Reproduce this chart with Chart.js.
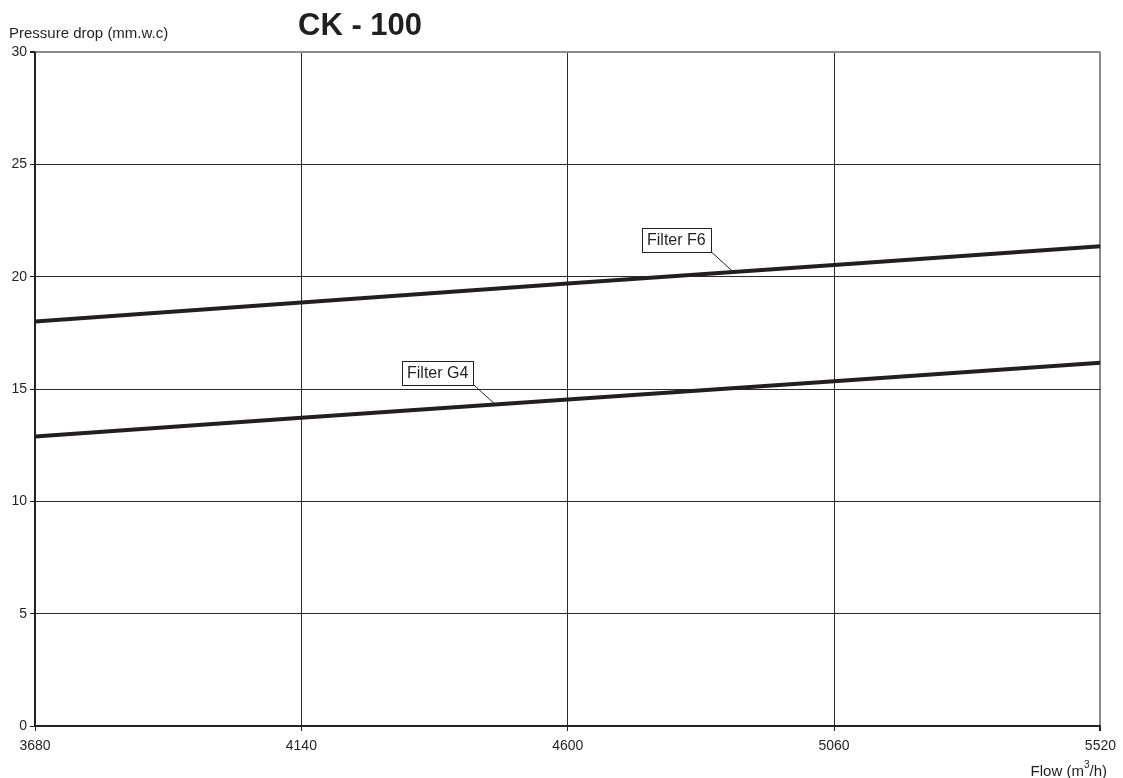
<!DOCTYPE html>
<html>
<head>
<meta charset="utf-8">
<title>CK - 100</title>
<script src="https://cdn.jsdelivr.net/npm/chart.js@4.4.1/dist/chart.umd.min.js"></script>
<style>
  html, body { margin: 0; padding: 0; background: #fff; }
  #wrap { width: 1123px; height: 778px; }
</style>
</head>
<body>
<div id="wrap"><canvas id="pressureChart" width="1123" height="778"></canvas></div>
<script>
// flow values (m3/h) and pressure drop per filter (mm.w.c)
const flow = [3680, 4140, 4600, 5060, 5520];
const filterF6 = [18.0, 18.85, 19.7, 20.52, 21.35];
const filterG4 = [12.88, 13.72, 14.53, 15.35, 16.17];
const seriesNames = ['Filter F6', 'Filter G4'];
// where each callout leader touches its curve
const calloutFlow = [4886, 4475];

const INK = '#231f20';
const FRAME = '#8c8c8c';
const FONT = '"Liberation Sans", Arial, sans-serif';

function toPoints(xs, ys) {
  return xs.map((x, i) => ({ x: x, y: ys[i] }));
}

function interp(xs, ys, x) {
  for (let i = 0; i < xs.length - 1; i++) {
    if (x >= xs[i] && x <= xs[i + 1]) {
      const t = (x - xs[i]) / (xs[i + 1] - xs[i]);
      return ys[i] + t * (ys[i + 1] - ys[i]);
    }
  }
  return ys[ys.length - 1];
}

// title, axis captions and the boxed series labels
const decorations = {
  id: 'decorations',
  afterDraw(chart) {
    const ctx = chart.ctx;
    const xs = chart.scales.x;
    const ys = chart.scales.y;
    ctx.save();
    ctx.fillStyle = INK;

    ctx.font = 'bold 31px ' + FONT;
    ctx.textAlign = 'left';
    ctx.textBaseline = 'alphabetic';
    ctx.fillText('CK - 100', 298, 35);

    ctx.font = '15px ' + FONT;
    ctx.fillText('Pressure drop (mm.w.c)', 9, 38);

    // "Flow (m³/h)" with a raised 3
    ctx.textAlign = 'right';
    ctx.font = '15px ' + FONT;
    ctx.fillText('/h)', 1107, 776);
    const tail = ctx.measureText('/h)').width;
    ctx.font = '10px ' + FONT;
    ctx.fillText('3', 1107 - tail, 768);
    const sup = ctx.measureText('3').width;
    ctx.font = '15px ' + FONT;
    ctx.fillText('Flow (m', 1107 - tail - sup, 776);

    // callouts
    const data = [filterF6, filterG4];
    ctx.lineWidth = 1;
    ctx.strokeStyle = INK;
    ctx.font = '16px ' + FONT;
    ctx.textAlign = 'left';
    ctx.textBaseline = 'middle';
    seriesNames.forEach((name, i) => {
      const px = xs.getPixelForValue(calloutFlow[i]);
      const py = ys.getPixelForValue(interp(flow, data[i], calloutFlow[i]));
      const bx1 = px - 22;
      const by1 = py - 20;
      const w = Math.round(ctx.measureText(name).width + 10);
      const h = 24;
      ctx.beginPath();
      ctx.moveTo(px, py);
      ctx.lineTo(bx1, by1);
      ctx.stroke();
      const left = Math.round(bx1 - w);
      const top = Math.round(by1 - h);
      ctx.fillStyle = '#fff';
      ctx.fillRect(left, top, w, h);
      ctx.strokeRect(left + 0.5, top + 0.5, w, h);
      ctx.fillStyle = INK;
      ctx.fillText(name, left + 5, top + h / 2 + 1);
    });
    ctx.restore();
  }
};

new Chart(document.getElementById('pressureChart'), {
  type: 'line',
  data: {
    datasets: [
      {
        label: seriesNames[0],
        data: toPoints(flow, filterF6),
        borderColor: INK,
        borderWidth: 4,
        pointRadius: 0,
        tension: 0
      },
      {
        label: seriesNames[1],
        data: toPoints(flow, filterG4),
        borderColor: INK,
        borderWidth: 4,
        pointRadius: 0,
        tension: 0
      }
    ]
  },
  options: {
    responsive: false,
    animation: false,
    layout: { padding: { top: 52, right: 21, left: 0, bottom: 0 } },
    plugins: {
      legend: { display: false },
      tooltip: { enabled: false },
      title: { display: false }
    },
    scales: {
      x: {
        type: 'linear',
        min: 3680,
        max: 5520,
        afterFit(scale) { scale.height = 52; },
        afterBuildTicks(scale) {
          scale.ticks = flow.map(v => ({ value: v }));
        },
        ticks: {
          color: INK,
          font: { family: FONT, size: 14 },
          padding: 7,
          maxRotation: 0,
          callback: v => String(v)
        },
        grid: {
          color: c => (c.tick && c.tick.value === 5520 ? FRAME : '#2a2a2a'),
          lineWidth: c => (c.tick && c.tick.value === 5520 ? 2 : 1),
          tickLength: 5,
          tickColor: INK
        },
        border: { color: INK, width: 1.5 }
      },
      y: {
        min: 0,
        max: 30,
        afterFit(scale) { scale.width = 35; },
        ticks: {
          stepSize: 5,
          color: INK,
          font: { family: FONT, size: 14 },
          padding: 3,
          callback: v => String(v)
        },
        grid: {
          color: c => (c.tick && c.tick.value === 30 ? FRAME : '#2a2a2a'),
          lineWidth: c => (c.tick && c.tick.value === 30 ? 2 : 1),
          tickLength: 5,
          tickColor: INK
        },
        border: { color: INK, width: 1.5 }
      }
    }
  },
  plugins: [decorations]
});
</script>
</body>
</html>
